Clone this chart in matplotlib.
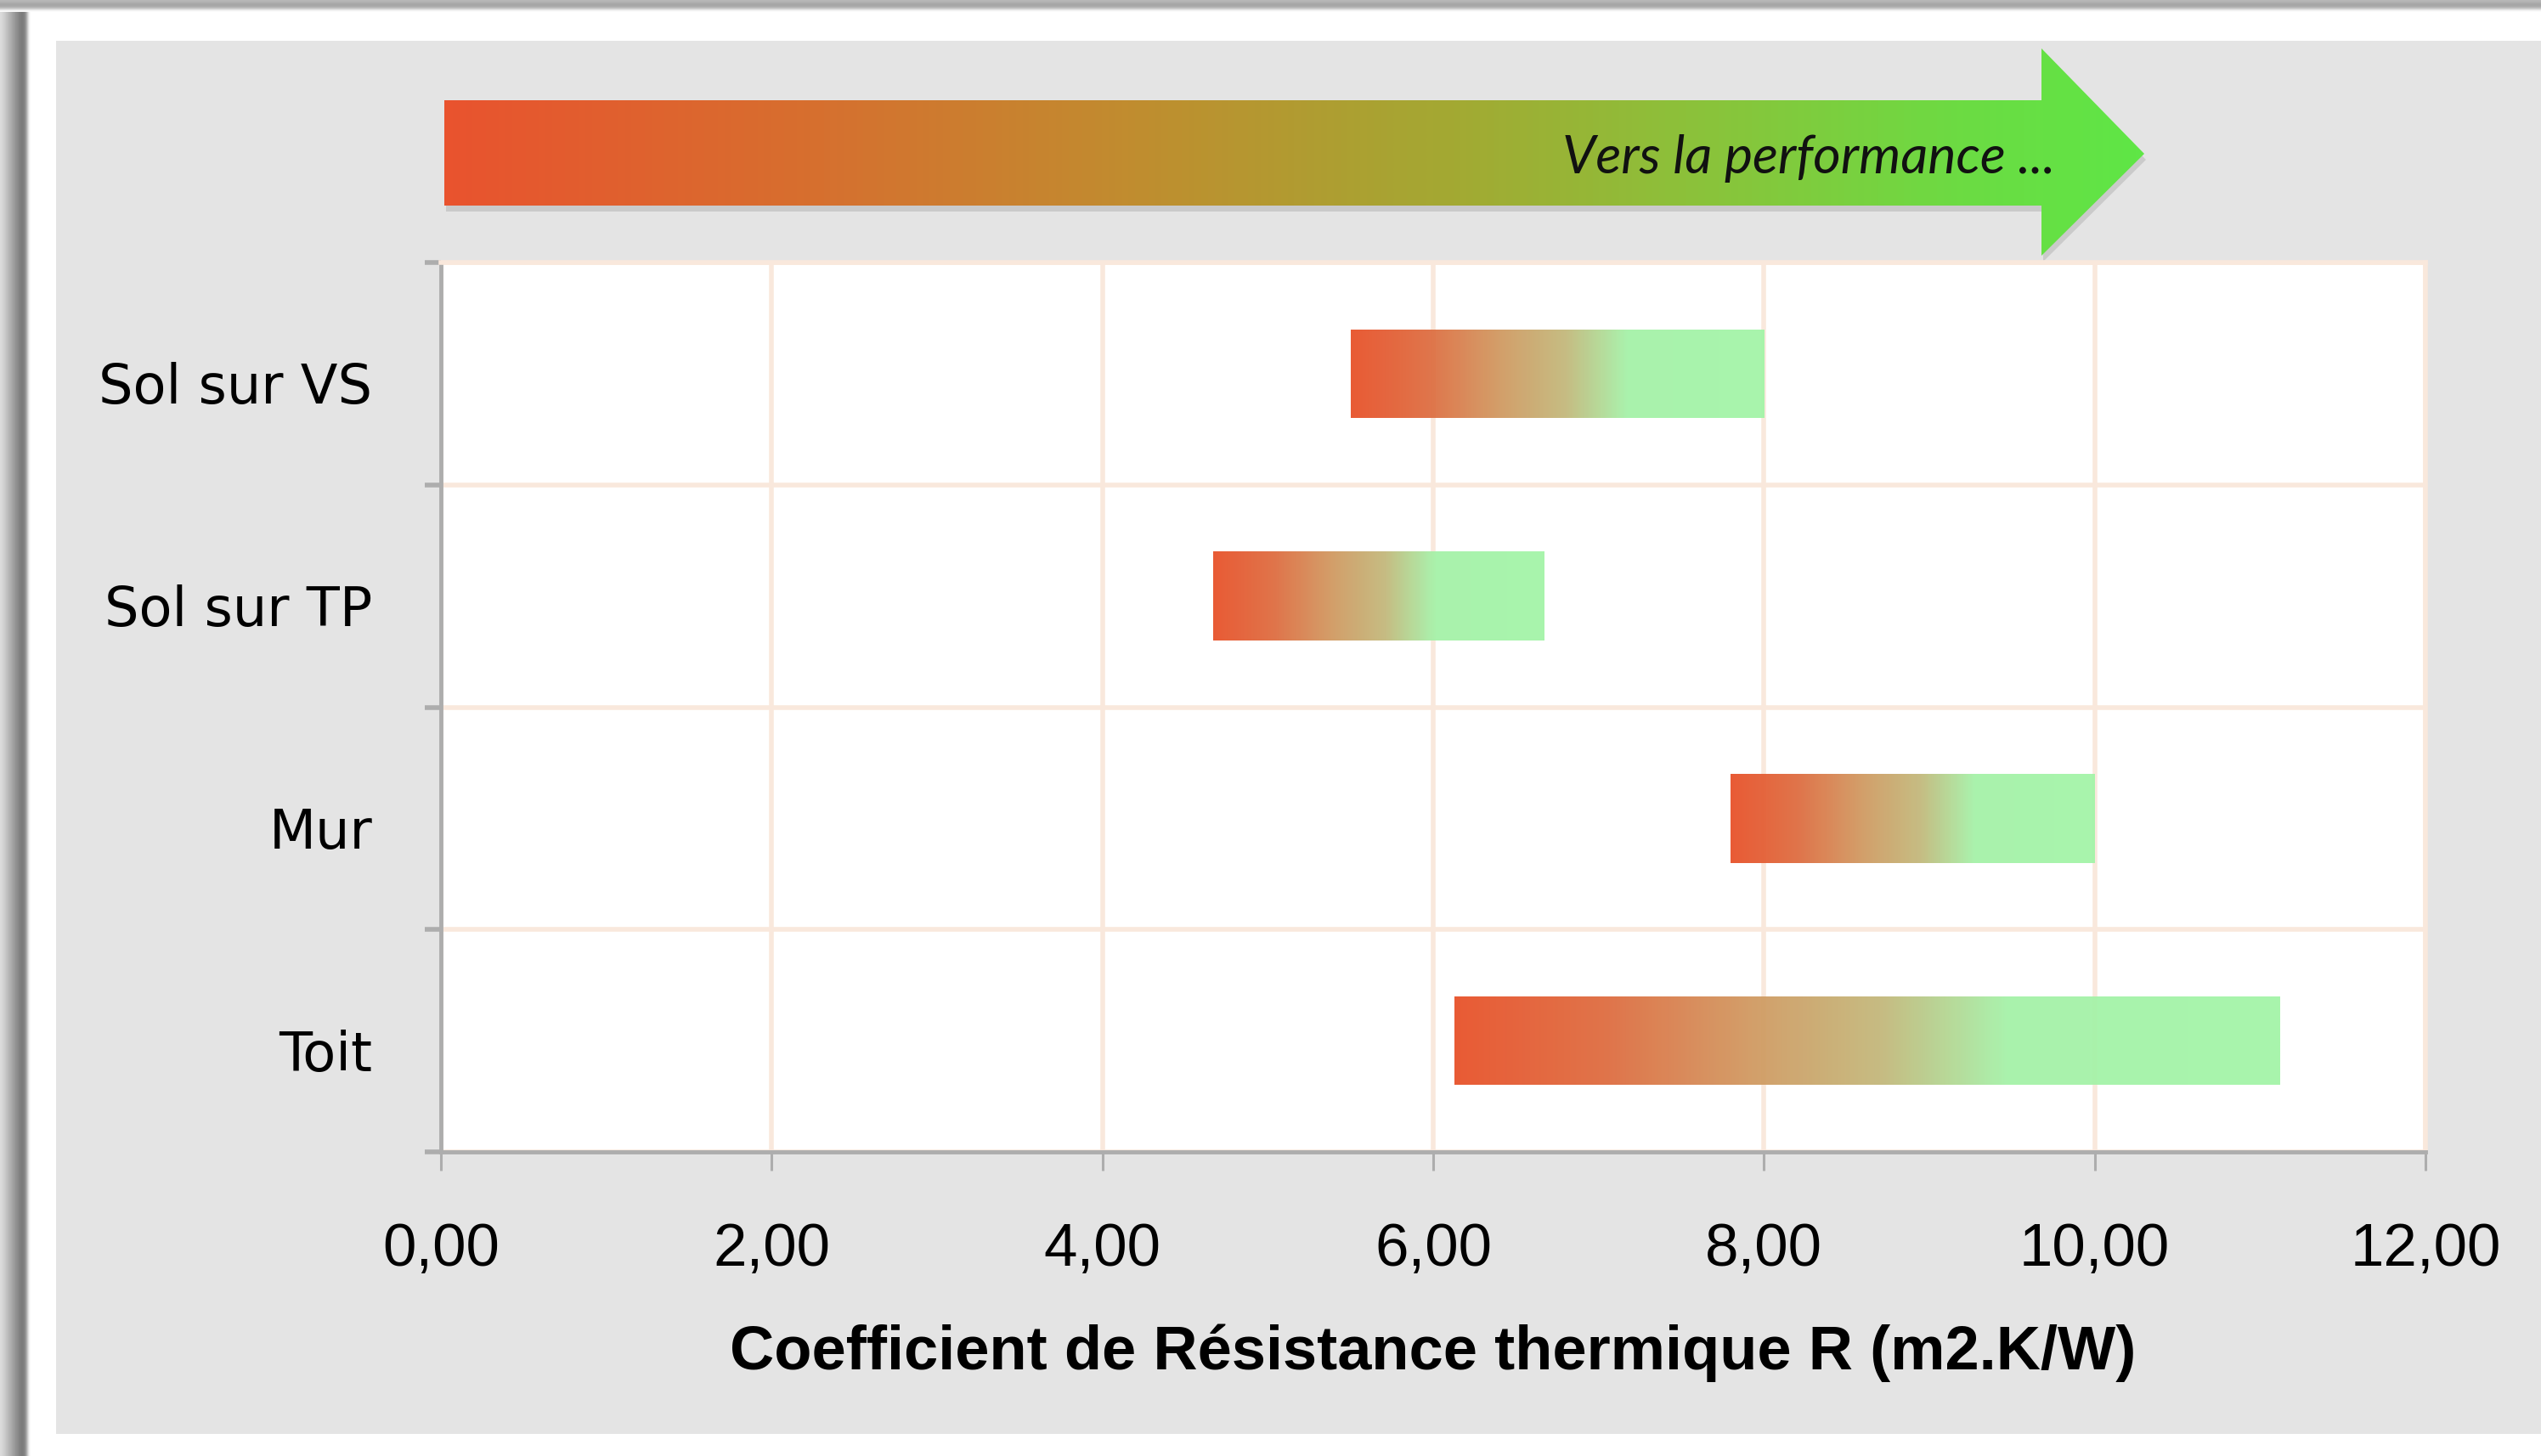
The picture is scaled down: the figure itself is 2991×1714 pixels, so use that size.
import numpy as np
import matplotlib
matplotlib.use("Agg")
import matplotlib.pyplot as plt
import matplotlib.transforms as mtransforms
from matplotlib.colors import LinearSegmentedColormap
from matplotlib.patches import Polygon, Rectangle

# ---------------- data ----------------
categories = ["Sol sur VS", "Sol sur TP", "Mur", "Toit"]
r_min = [5.5, 4.67, 7.8, 6.13]
r_max = [8.0, 6.67, 10.0, 11.12]
x_ticks = [0, 2, 4, 6, 8, 10, 12]
x_tick_labels = ["0,00", "2,00", "4,00", "6,00", "8,00", "10,00", "12,00"]
x_label = "Coefficient de Résistance thermique R (m2.K/W)"
arrow_text = "Vers la performance ..."

# ---------------- figure ----------------
W, H = 2991, 1714
fig = plt.figure(figsize=(W / 100, H / 100), dpi=100)
fig.patch.set_facecolor("white")

# background / decoration layer in pixel coordinates
bg = fig.add_axes([0, 0, 1, 1], zorder=0)
bg.set_xlim(0, W)
bg.set_ylim(H, 0)
bg.axis("off")

# outer drop shadow (left and top)
lshadow = np.array([[0.86, 0.80, 0.74, 0.68, 0.62, 0.56, 0.50, 0.47, 0.55, 1.0]])
bg.imshow(lshadow, extent=(0, 36, H, 0), cmap="gray", vmin=0, vmax=1,
          aspect="auto", interpolation="bicubic", zorder=1)
tshadow = np.array([[0.72], [0.66], [0.64], [0.75], [1.0]])
bg.imshow(tshadow, extent=(0, W, 14, 0), cmap="gray", vmin=0, vmax=1,
          aspect="auto", interpolation="bicubic", zorder=1)

# grey panel
bg.add_patch(Rectangle((66, 48), W - 66, 1688 - 48, facecolor="#E4E4E4",
                       edgecolor="none", zorder=2))

# gradient arrow "Vers la performance ..."
ax0, ax1 = 523, 2524
body_end = 2403
arrow_pts = [(ax0, 118), (body_end, 118), (body_end, 57), (ax1, 181),
             (body_end, 301), (body_end, 242), (ax0, 242)]
shadow = Polygon([(x + 2, y + 7) for x, y in arrow_pts], closed=True,
                 facecolor="#9a9a9a", edgecolor="none", alpha=0.35, zorder=3)
bg.add_patch(shadow)
arrow_cmap = LinearSegmentedColormap.from_list(
    "arrow",
    [(0.00, "#E9532E"), (0.22, "#D6702F"), (0.40, "#C18C2F"),
     (0.60, "#A2AA33"), (0.75, "#89C43B"), (0.90, "#6BDC43"),
     (1.00, "#5FE646")])
arrow_poly = Polygon(arrow_pts, closed=True, facecolor="none",
                     edgecolor="none", zorder=4)
bg.add_patch(arrow_poly)
agrad = np.linspace(0, 1, 512).reshape(1, -1)
aim = bg.imshow(agrad, extent=(ax0, ax1, 301, 57), cmap=arrow_cmap,
                aspect="auto", interpolation="bicubic", zorder=4)
aim.set_clip_path(arrow_poly)
bg.text(2419, 186, arrow_text, ha="right", va="center", fontsize=45,
        style="italic", family=["Lato", "DejaVu Sans"], color="#111111",
        zorder=5)
bg.set_xlim(0, W)
bg.set_ylim(H, 0)

# ---------------- main chart ----------------
left, right, top, bottom = 519, 2855, 309, 1356
ax = fig.add_axes([left / W, 1 - bottom / H, (right - left) / W,
                   (bottom - top) / H], zorder=2)
ax.set_facecolor("white")

pos = np.arange(len(categories))
widths = [b - a for a, b in zip(r_min, r_max)]
bars = ax.barh(pos, widths, left=r_min, height=0.4, color="none",
               edgecolor="none", zorder=3)

bar_cmap = LinearSegmentedColormap.from_list(
    "bar",
    [(0.00, "#E8522A"), (0.18, "#DF6C40"), (0.36, "#D19A62"),
     (0.52, "#C3B97C"), (0.67, "#A6F2A9"), (1.00, "#A3F5A8")])
grad = np.linspace(0, 1, 512).reshape(1, -1)
for patch in bars.patches:
    x0, y0 = patch.get_x(), patch.get_y()
    w, h = patch.get_width(), patch.get_height()
    im = ax.imshow(grad, extent=(x0, x0 + w, y0 + h, y0), cmap=bar_cmap,
                   aspect="auto", interpolation="bicubic", alpha=0.95,
                   zorder=3)
    im.set_clip_path(patch)

ax.set_xlim(0, 12)
ax.set_ylim(3.5, -0.5)

peach = "#F9E8DC"
grey = "#ADADAD"

# x axis
ax.set_xticks(x_ticks)
ax.set_xticklabels(x_tick_labels, fontsize=51,
                   family=["Liberation Sans", "DejaVu Sans"])
ax.tick_params(axis="x", which="major", length=16, width=2.2, color=grey,
               pad=44, labelcolor="black")
ax.xaxis.grid(True, color=peach, linewidth=4)

# y axis
ax.set_yticks(pos)
ax.set_yticklabels(categories, fontsize=46, family=["DejaVu Sans"])
ax.tick_params(axis="y", which="major", length=0, pad=58,
               labelcolor="black")
shift = mtransforms.ScaledTranslation(0, -8 / 72, fig.dpi_scale_trans)
for lbl in ax.get_yticklabels():
    lbl.set_transform(lbl.get_transform() + shift)
ax.set_yticks(np.arange(-0.5, len(categories), 1.0), minor=True)
ax.tick_params(axis="y", which="minor", length=14, width=4, color=grey)
ax.yaxis.grid(True, which="minor", color=peach, linewidth=4)
ax.set_axisbelow(True)

for s in ["left", "bottom"]:
    ax.spines[s].set_color(grey)
    ax.spines[s].set_linewidth(3.5)
for s in ["top", "right"]:
    ax.spines[s].set_color(peach)
    ax.spines[s].set_linewidth(4)

ax.set_xlabel(x_label, fontsize=52, fontweight="bold",
              family=["Liberation Sans", "DejaVu Sans"], labelpad=38)

fig.savefig("out.png", dpi=100, facecolor=fig.get_facecolor())
